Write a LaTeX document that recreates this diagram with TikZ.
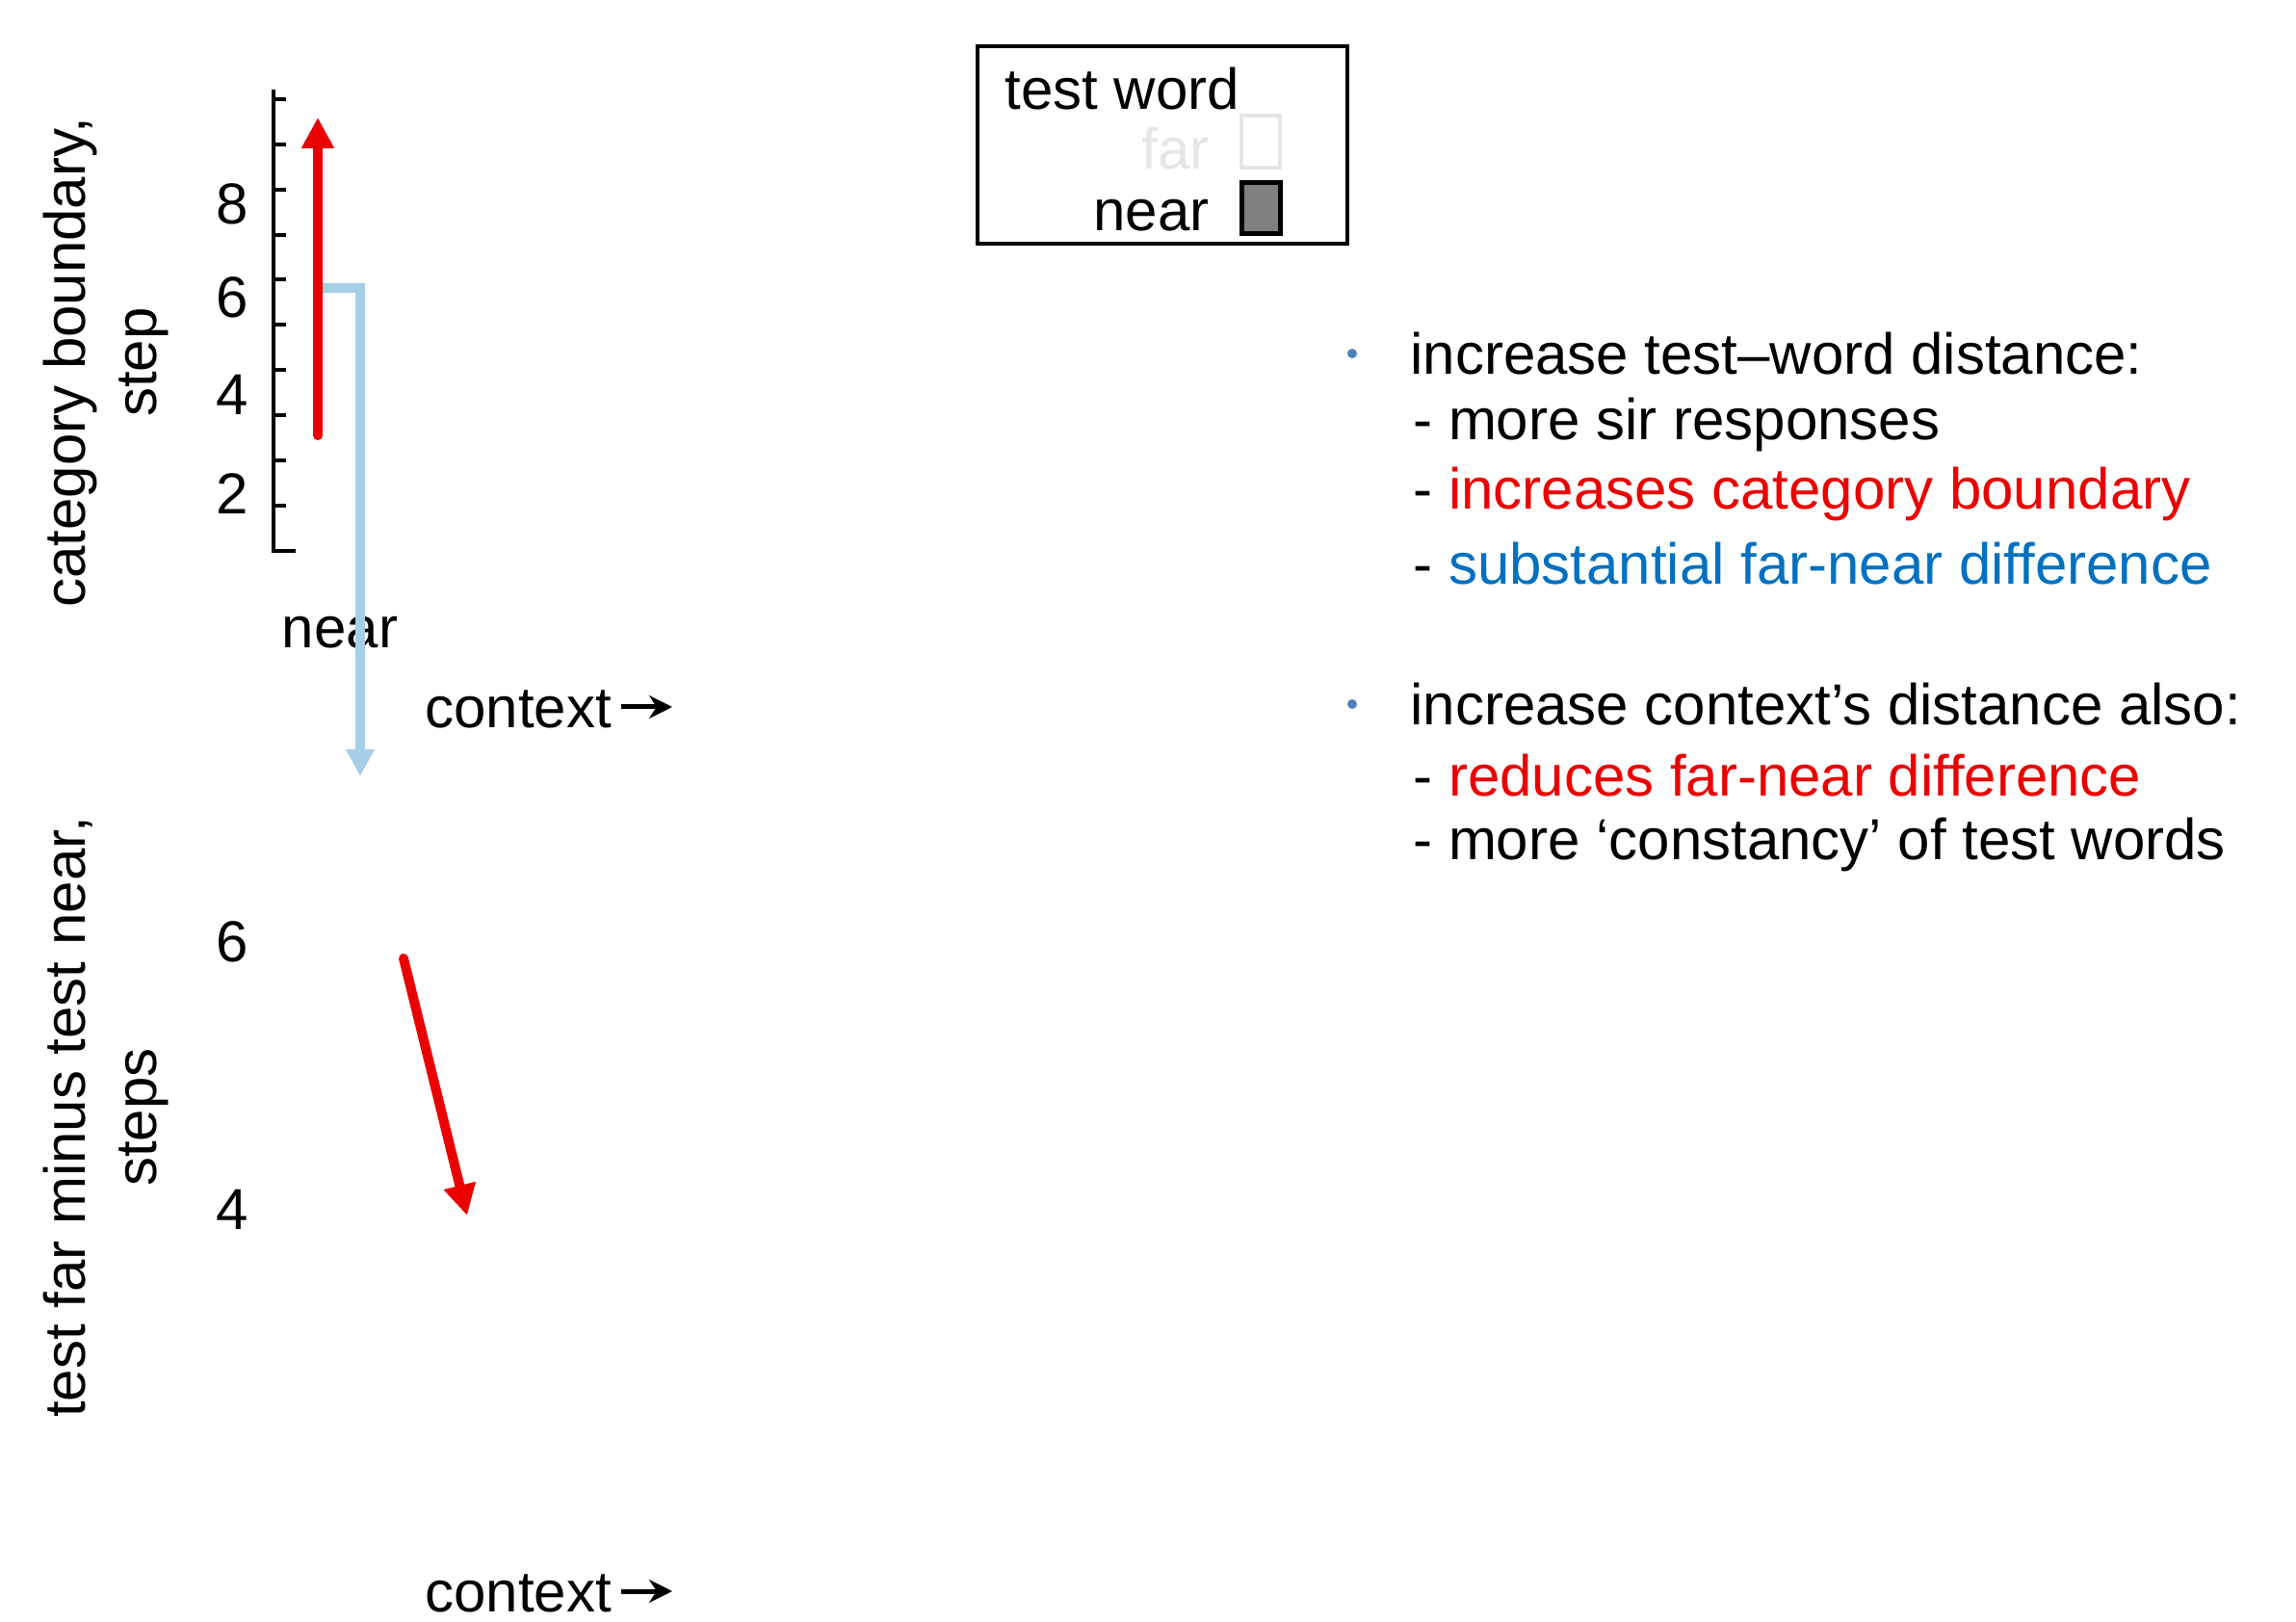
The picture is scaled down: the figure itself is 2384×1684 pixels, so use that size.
\documentclass[tikz,border=0pt]{standalone}
\usepackage{fontspec}
\setmainfont{Liberation Sans}
\usetikzlibrary{arrows.meta}
\definecolor{myred}{RGB}{235,0,0}
\definecolor{myblue}{RGB}{0,112,192}
\definecolor{lblue}{RGB}{166,206,231}
\definecolor{dotblue}{RGB}{79,129,189}
\begin{document}
\begin{tikzpicture}[x=0.5pt,y=-0.5pt,
  every node/.style={font=\fontsize{30}{37}\selectfont, inner sep=0pt},
  lbl/.style={anchor=west},
  redarrow/.style={myred, line width=5pt, line cap=round, -{Triangle[length=16pt,width=16pt]}},
  bluearrow/.style={lblue, line width=5pt, -{Triangle[length=14pt,width=14pt]}},
  ctxarrow/.style={line width=2.5pt, -{Stealth[length=12pt,width=12pt]}}]
\useasboundingbox (0,0) rectangle (2384,1684);
% top axis
\draw[line width=2.2pt] (284,93) -- (284,572) -- (307,572);
\foreach \y in {103,150,197,244,290,337,384,431,478,525}
  \draw[line width=2.2pt] (284,\y) -- (297,\y);
\node (t8) at (241,212) {8};
\node (t6) at (241,309) {6};
\node (t4) at (241,410) {4};
\node (t2) at (241,513) {2};
\node[rotate=90, align=center] (ylab1) at (110,376) {category boundary,\\step};
\node (near) at (353,657) {near};
% arrows top
\coordinate (bs) at (328,299);
\coordinate (bc) at (374,299);
\coordinate (be) at (374,806);
\draw[bluearrow] (bs) -- (bc) -- (be);
\coordinate (rs) at (330,452);
\coordinate (re) at (330,122);
\draw[redarrow] (rs) -- (re);
\node[lbl] (ctx1) at (441,736) {context};
\coordinate (ca1) at (645,734);
\coordinate (cb1) at (698,734);
\draw[ctxarrow] (ca1) -- (cb1);
% bottom
\node[rotate=90, align=center] (ylab2) at (110,1160) {test far minus test near,\\steps};
\node (b6) at (241,978) {6};
\node (b4) at (241,1256) {4};
\coordinate (r2s) at (419,995);
\coordinate (r2e) at (485,1262);
\draw[redarrow] (r2s) -- (r2e);
\node[lbl] (ctx2) at (441,1654) {context};
\coordinate (ca2) at (645,1652);
\coordinate (cb2) at (698,1652);
\draw[ctxarrow] (ca2) -- (cb2);
% legend
\draw[line width=2pt] (1015,48) rectangle (1399,253);
\node[lbl] (lt) at (1043,92) {test word};
\node[anchor=east, text=black!10] (lf) at (1256,154) {far};
\draw[black!10, line width=2pt] (1289,120) rectangle (1329,174);
\node[anchor=east] (ln) at (1256,224) {near};
\draw[fill=black!50, line width=2.5pt] (1289,190) rectangle (1329,243);
% bullets
\fill[dotblue] (1404,367) circle (5);
\node[lbl] (l1) at (1464,367) {increase test–word distance:};
\node[lbl] (l2) at (1467,441) {- more sir responses};
\node[lbl] (l3) at (1467,513) {- \textcolor{myred}{increases category boundary}};
\node[lbl] (l4) at (1467,585) {- \textcolor{myblue}{substantial far-near difference}};
\fill[dotblue] (1404,731) circle (5);
\node[lbl] (m1) at (1464,731) {increase context’s distance also:};
\node[lbl] (m2) at (1467,805) {- \textcolor{myred}{reduces far-near difference}};
\node[lbl] (m3) at (1467,877) {- more ‘constancy’ of test words};
\end{tikzpicture}
\end{document}
